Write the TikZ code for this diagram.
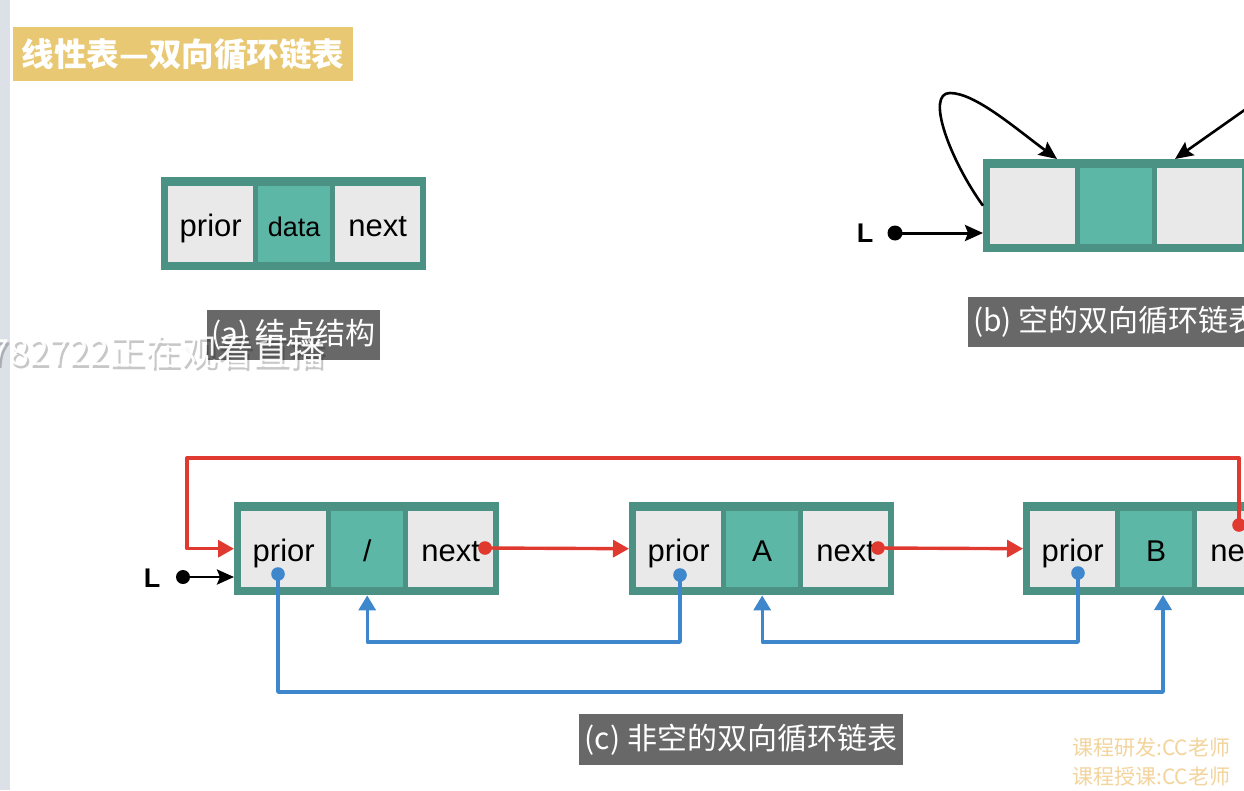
\documentclass[tikz,border=0pt]{standalone}
\usepackage{fontspec}
\setmainfont{Liberation Sans}
\newfontfamily\cjk{Noto Sans CJK SC}
\usetikzlibrary{arrows.meta,calc}
\definecolor{tealborder}{HTML}{4B9184}
\definecolor{tealcell}{HTML}{5DB7A7}
\definecolor{lightcell}{HTML}{E9E9E9}
\definecolor{redc}{HTML}{E03A30}
\definecolor{bluec}{HTML}{3E87CC}
\definecolor{labelgray}{HTML}{686868}
\definecolor{titleyellow}{HTML}{E9C873}
\definecolor{stripc}{HTML}{DCE1E8}
\definecolor{wmorange}{HTML}{F3D49C}
\tikzset{
  outerbox/.style={fill=tealborder, inner sep=0pt, minimum width=265pt, minimum height=93pt},
  cellL/.style={fill=lightcell, inner sep=0pt, minimum width=85pt, minimum height=76pt, text height=25pt, text depth=0pt, font=\fontsize{31pt}{37pt}\selectfont},
  cellT/.style={fill=tealcell, inner sep=0pt, minimum width=72pt, minimum height=76pt, text height=25pt, text depth=0pt, font=\fontsize{30pt}{36pt}\selectfont},
  redl/.style={draw=redc, line width=3.4pt, line join=round, -{Triangle[length=16pt,width=17pt]}},
  bluel/.style={draw=bluec, line width=3.4pt, line join=round, -{Triangle[length=15pt,width=17pt]}},
  blkl/.style={draw=black, line width=2.6pt, -{Stealth[length=18pt,width=16pt,inset=3pt]}},
  caption/.style={fill=labelgray, text=white, inner sep=0pt, font=\cjk\fontsize{30pt}{36pt}\selectfont},
  Lfont/.style={font=\bfseries\fontsize{27pt}{32pt}\selectfont, inner sep=0pt},
  wmark/.style={font=\cjk\fontsize{21pt}{25pt}\selectfont, text=wmorange, inner sep=0pt, anchor=west},
}
\newcommand\dlnode[6]{%
  \node[outerbox,anchor=north west] (#1) at (#2,#3) {};
  \node[cellL,anchor=north west] (#1-p) at ({#2+7},{#3+9}) {#4};
  \node[cellT,anchor=north west] (#1-d) at ({#2+97},{#3+9}) {#5};
  \node[cellL,anchor=north west] (#1-n) at ({#2+174},{#3+9}) {#6};
}
\begin{document}
\begin{tikzpicture}[x=1pt,y=-1pt]
\useasboundingbox (0,0) rectangle (1244,790);
\fill[white] (0,0) rectangle (1244,790);
\fill[stripc] (0,0) rectangle (10,790);

% title
\node[fill=titleyellow, text=white, inner sep=0pt, minimum width=340pt, minimum height=54pt,
      font=\cjk\bfseries\fontsize{32.5pt}{38pt}\selectfont] (title) at (183,54) {线性表—双向循环链表};

% (a)
\dlnode{a}{161}{177}{prior}{\fontsize{27pt}{32pt}\selectfont data}{next}
\node[caption, minimum width=173pt, minimum height=50pt] (capa) at (293.5,335) {(a) 结点结构};

% (b)
\dlnode{b}{983}{159}{}{}{}
\node[caption, anchor=west, minimum height=50pt, inner xsep=5pt] (capb) at (968,322) {(b) 空的双向循环链表};
\node[Lfont] (Lb) at (865,233) {L};
\coordinate (Lbdot) at (895,233);
\draw[blkl, line width=3pt] (Lbdot) -- (b.west |- Lbdot);
\fill (Lbdot) circle[radius=7.5pt];
\coordinate (barcend) at (1057,159);
\draw[blkl] (b.west) .. controls (950,160) and (925,93) .. (950,93) .. controls (975,93) and (1015,128) .. (barcend);
\coordinate (barc2start) at (1290,78);
\coordinate (barc2end) at (1175,159);
\draw[blkl] (barc2start) -- (barc2end);

% (c)
\dlnode{c1}{234}{502}{prior}{/}{next}
\dlnode{c2}{629}{502}{prior}{A}{next}
\dlnode{c3}{1023}{502}{prior}{B}{next}
\node[caption, minimum width=324pt, minimum height=51pt] (capc) at (741,739.5) {(c) 非空的双向循环链表};

\node[Lfont] (Lc) at (152,578) {L};
\coordinate (Lcdot) at (183,577);
\draw[blkl, line width=2.8pt, -{Stealth[length=17pt,width=15pt,inset=3pt]}] (Lcdot) -- (c1.west |- Lcdot);
\fill (Lcdot) circle[radius=7pt];

\coordinate (c1-nd) at (485,548);
\coordinate (c2-nd) at (878,548);
\coordinate (c3-nd) at (1239,525);
\coordinate (c1-pd) at (278,574);
\coordinate (c2-pd) at (680,575);
\coordinate (c3-pd) at (1078,573);
\coordinate (rtop) at (187,458);
\coordinate (bl1) at (0,642);
\coordinate (bl2) at (0,692);
\coordinate (c3-in) at (1163,595);

\draw[redl] (c1-nd) -- (c2.west);
\draw[redl] (c2-nd) -- (c3.west);
\draw[redl] (c3-nd) |- (rtop) |- (c1.west);

\draw[bluel] (c2-pd) |- (c1-d |- bl1) -- (c1-d |- c1.south);
\draw[bluel] (c3-pd) |- (c2-d |- bl1) -- (c2-d |- c2.south);
\draw[bluel] (c1-pd) |- (c3-in |- bl2) -- (c3-in);

\foreach \p in {c1-nd,c2-nd,c3-nd} \fill[redc] (\p) circle[radius=6.8pt];
\foreach \p in {c1-pd,c2-pd,c3-pd} \fill[bluec] (\p) circle[radius=6.8pt];

% overlay watermark
\node[font=\cjk\fontsize{36pt}{42pt}\selectfont, text=black, opacity=0.22, inner sep=0pt, anchor=east] (wmshadow) at (328,355) {782722正在观看直播};
\node[font=\cjk\fontsize{36pt}{42pt}\selectfont, text=white, opacity=0.95, inner sep=0pt, anchor=east] (wm) at (326,352) {782722正在观看直播};

\node[wmark] (wm1) at (1072,748) {课程研发:CC老师};
\node[wmark] (wm2) at (1072,777) {课程授课:CC老师};
\end{tikzpicture}
\end{document}
